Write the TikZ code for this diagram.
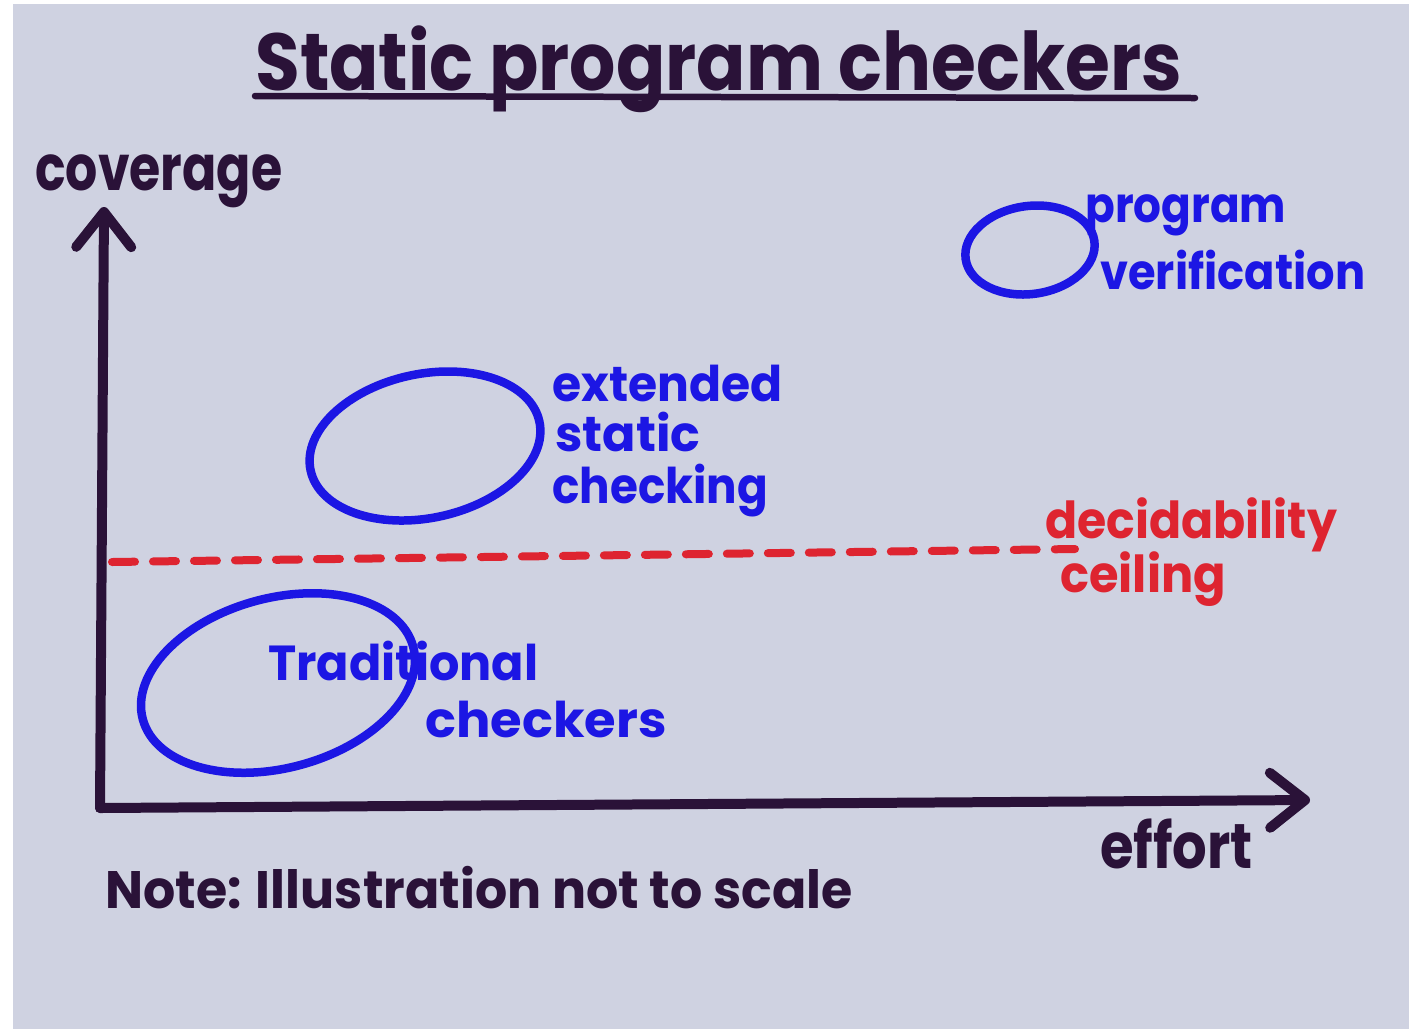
\documentclass[tikz,border=0pt]{standalone}
\usepackage{fontspec}
\setmainfont{Poppins}
\usetikzlibrary{shapes.geometric,arrows.meta}
\definecolor{paper}{RGB}{207,210,225}
\definecolor{ink}{RGB}{42,18,56}
\definecolor{bluemarker}{RGB}{28,22,228}
\definecolor{redmarker}{RGB}{222,36,48}
\begin{document}
\begin{tikzpicture}[x=0.02cm,y=-0.02cm,
  inkline/.style={draw=ink,line width=0.2cm,line cap=round,line join=round},
  axisarrow/.style={inkline,-{Straight Barb[length=0.7cm,width=1.1cm,line cap=round,line join=round]}},
  blob/.style={ellipse,draw=bluemarker,line width=0.17cm,inner sep=0pt},
  lbl/.style={anchor=base west,inner sep=0pt,font=\bfseries},
  inklbl/.style={lbl,text=ink},
  bluelbl/.style={lbl,text=bluemarker,font=\fontsize{28}{30}\selectfont\bfseries},
  redlbl/.style={lbl,text=redmarker,font=\fontsize{29}{31}\selectfont\bfseries},
  ceilingline/.style={draw=redmarker,line width=0.16cm,line cap=round,dash pattern=on 0.46cm off 0.36cm}]
  % sheet of paper with a thin white strip on the left and top
  \fill[white] (0,0) rectangle (1409,1029);
  \fill[paper] (13,4) rectangle (1409,1029);
  \useasboundingbox (0,0) rectangle (1409,1029);

  % title
  \node[inklbl,font=\fontsize{46}{50}\selectfont\bfseries,xscale=0.9] (title) at (255,90) {Static program checkers};
  \coordinate (ulA) at (255,96);
  \coordinate (ulB) at (1195,98);
  \draw[draw=ink,line width=0.13cm,line cap=round] (ulA) -- (ulB);

  % axes
  \coordinate (O) at (100,808);
  \coordinate (ytip) at (104,207);
  \coordinate (xtip) at (1310,800);
  \draw[axisarrow] (O) -- (ytip);
  \draw[axisarrow] (O) -- (xtip);
  \node[inklbl,font=\fontsize{36}{40}\selectfont\bfseries,xscale=0.8] (cov) at (35,190) {coverage};
  \node[inklbl,font=\fontsize{36}{40}\selectfont\bfseries,xscale=0.86] (eff) at (1100,868) {effort};
  \node[inklbl,font=\fontsize{30}{34}\selectfont\bfseries,xscale=0.96] (note) at (105,908) {Note: Illustration not to scale};

  % decidability ceiling
  \coordinate (dl) at (112,562);
  \coordinate (dr) at (1075,549);
  \draw[ceilingline] (dl) -- (dr);
  \node[redlbl,xscale=0.93] (dec) at (1045,538) {decidability};
  \node[redlbl,xscale=0.94] (ceil) at (1060,592) {ceiling};

  % checker families
  \node[blob,minimum width=5.6cm,minimum height=3.4cm,rotate=15] (trad) at (278,683) {};
  \node[bluelbl,xscale=0.97] (tradA) at (268,680) {Traditional};
  \node[bluelbl,xscale=1.04] (tradB) at (425,737) {checkers};

  \node[blob,minimum width=4.68cm,minimum height=2.88cm,rotate=12] (esc) at (425,446) {};
  \node[bluelbl,xscale=0.96] (escA) at (552,401) {extended};
  \node[bluelbl] (escB) at (555,451) {static};
  \node[bluelbl,xscale=0.92] (escC) at (552,503) {checking};

  \node[blob,minimum width=2.6cm,minimum height=1.76cm,rotate=8] (pv) at (1030,250) {};
  \node[bluelbl,xscale=0.89] (pvA) at (1085,222) {program};
  \node[bluelbl,xscale=0.91] (pvB) at (1100,289) {verification};
\end{tikzpicture}
\end{document}
